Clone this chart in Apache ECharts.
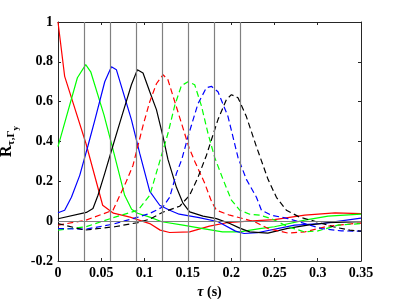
<!DOCTYPE html>
<html>
<head>
<meta charset="utf-8">
<script src="https://cdn.jsdelivr.net/npm/echarts@6/dist/echarts.min.js"></script>
<style>html,body{margin:0;padding:0;background:#fff;}#c{width:399px;height:299px;}</style>
</head>
<body>
<div id="c"></div>
<script>
// x tick labels / y tick range
const xTicks = [0, 0.05, 0.1, 0.15, 0.2, 0.25, 0.3, 0.35];
const yTicks = [-0.2, 0, 0.2, 0.4, 0.6, 0.8, 1];
// vertical reference lines (peak lags)
const markerTimes = [0.0323, 0.064, 0.0947, 0.1245, 0.1525, 0.1799, 0.2053];
const zeroLine = [0];

// solid curves
const tauRed = [0, 0.0077, 0.0323, 0.0516, 0.064, 0.0832, 0.106, 0.118, 0.129, 0.152, 0.175, 0.195, 0.22, 0.25, 0.285, 0.32, 0.35];
const rRed = [1.0, 0.727, 0.39, 0.08, 0.04, 0.02, -0.012, -0.045, -0.057, -0.054, -0.025, -0.008, 0.0, 0.008, 0.03, 0.042, 0.038];

const tauGreen = [0, 0.0224, 0.032, 0.0378, 0.0531, 0.0635, 0.077, 0.085, 0.092, 0.106, 0.12, 0.1444, 0.1675, 0.19, 0.21, 0.233, 0.25, 0.285, 0.312, 0.35];
const rGreen = [0.374, 0.72, 0.786, 0.75, 0.534, 0.36, 0.13, 0.06, 0.04, 0.02, -0.003, -0.02, -0.037, -0.054, -0.054, -0.037, -0.028, 0.005, 0.025, 0.035];

const tauBlue = [0, 0.0077, 0.0155, 0.0251, 0.0347, 0.0424, 0.054, 0.0617, 0.0675, 0.0848, 0.0944, 0.106, 0.1175, 0.129, 0.14, 0.163, 0.185, 0.205, 0.215, 0.23, 0.2734, 0.3043, 0.35];
const rBlue = [0.042, 0.055, 0.12, 0.23, 0.38, 0.505, 0.70, 0.775, 0.76, 0.51, 0.34, 0.15, 0.08, 0.055, 0.035, 0.018, -0.003, -0.05, -0.062, -0.058, -0.02, -0.012, 0.015];

const tauBlack = [0, 0.0328, 0.0404, 0.0462, 0.054, 0.0635, 0.0732, 0.0848, 0.0917, 0.0982, 0.106, 0.1137, 0.1213, 0.127, 0.1368, 0.1444, 0.1521, 0.1675, 0.183, 0.1984, 0.21, 0.2214, 0.2424, 0.2653, 0.2884, 0.3115, 0.35];
const rBlack = [0.012, 0.044, 0.064, 0.13, 0.24, 0.38, 0.52, 0.685, 0.76, 0.744, 0.65, 0.56, 0.425, 0.31, 0.17, 0.09, 0.047, 0.025, 0.013, -0.012, -0.035, -0.054, -0.06, -0.036, -0.02, -0.008, -0.003];

// dashed curves
const tauRedD = [0, 0.0323, 0.0635, 0.079, 0.0866, 0.0982, 0.106, 0.1137, 0.1213, 0.127, 0.1406, 0.1513, 0.158, 0.1695, 0.1772, 0.183, 0.1984, 0.2137, 0.2272, 0.2426, 0.2657, 0.285, 0.3119, 0.3427, 0.35];
const rRedD = [-0.02, 0.005, 0.055, 0.2, 0.28, 0.48, 0.6, 0.69, 0.735, 0.71, 0.52, 0.37, 0.30, 0.19, 0.1, 0.055, 0.03, 0.013, -0.003, -0.037, -0.06, -0.054, -0.025, -0.012, -0.01];

const tauGreenD = [0, 0.0323, 0.0635, 0.0924, 0.106, 0.1175, 0.127, 0.1348, 0.1425, 0.1502, 0.1579, 0.1656, 0.1733, 0.181, 0.1906, 0.2003, 0.2099, 0.2214, 0.233, 0.2465, 0.2657, 0.285, 0.3003, 0.3234, 0.35];
const rGreenD = [-0.045, -0.028, 0.017, 0.055, 0.13, 0.3, 0.44, 0.58, 0.68, 0.70, 0.685, 0.58, 0.44, 0.32, 0.21, 0.106, 0.055, 0.035, 0.03, 0.013, -0.028, -0.054, -0.049, -0.02, -0.012];

const tauBlueD = [0, 0.0323, 0.0635, 0.0924, 0.106, 0.1213, 0.129, 0.1368, 0.143, 0.1502, 0.1617, 0.1714, 0.1772, 0.1848, 0.1964, 0.2079, 0.2176, 0.2292, 0.235, 0.2465, 0.2657, 0.285, 0.3043, 0.3274, 0.35];
const rBlueD = [-0.037, -0.04, -0.015, 0.02, 0.039, 0.072, 0.12, 0.24, 0.31, 0.425, 0.59, 0.67, 0.677, 0.65, 0.525, 0.32, 0.21, 0.12, 0.055, 0.03, 0.013, -0.012, -0.037, -0.049, -0.05];

const tauBlackD = [0, 0.0308, 0.0655, 0.0924, 0.106, 0.121, 0.1406, 0.152, 0.1617, 0.1714, 0.1848, 0.1945, 0.2003, 0.2079, 0.2176, 0.2292, 0.2426, 0.2523, 0.2638, 0.2792, 0.2985, 0.3177, 0.337, 0.35];
const rBlackD = [-0.012, -0.045, -0.028, -0.007, 0.01, 0.045, 0.075, 0.13, 0.22, 0.33, 0.51, 0.61, 0.635, 0.62, 0.525, 0.374, 0.21, 0.12, 0.055, 0.02, -0.003, -0.028, -0.045, -0.05];

const zip = (a, b) => a.map((v, i) => [v, b[i]]);
const FONT = 'Liberation Serif';
const AX = '#262626';

function curve(name, xs, ys, color, dashed) {
  return {
    name, type: 'line', data: zip(xs, ys), showSymbol: false, symbol: 'none',
    lineStyle: { color, width: 1.2, type: dashed ? [6, 3.5] : 'solid' },
    z: 3, animation: false
  };
}

const chart = echarts.init(document.getElementById('c'), null, { renderer: 'canvas' });
const baseAxisStyle = {
  axisLine: { show: true, onZero: false, lineStyle: { color: AX, width: 1 } },
  axisTick: { show: true, inside: true, length: 3, lineStyle: { color: AX } },
  splitLine: { show: false }
};
chart.setOption({
  animation: false,
  backgroundColor: '#fff',
  grid: { left: 58, right: 38, top: 22, bottom: 38, containLabel: false, outerBoundsMode: 'none' },
  xAxis: [
    Object.assign({
      type: 'value', min: xTicks[0], max: xTicks[xTicks.length - 1], interval: 0.05,
      axisLabel: { show: true, margin: 5, color: '#000', fontFamily: FONT, fontWeight: 'bold', fontSize: 14 },
      name: '{t|τ}{u| (s)}', nameLocation: 'middle', nameGap: 20,
      nameTextStyle: { rich: {
        t: { fontFamily: FONT, fontStyle: 'italic', fontWeight: 'bold', fontSize: 14, color: '#000' },
        u: { fontFamily: FONT, fontWeight: 'bold', fontSize: 14, color: '#000' } } }
    }, baseAxisStyle),
    Object.assign({
      type: 'value', position: 'top', min: 0, max: 0.35, interval: 0.05,
      axisLabel: { show: false }
    }, baseAxisStyle)
  ],
  yAxis: [
    Object.assign({
      type: 'value', min: yTicks[0], max: yTicks[yTicks.length - 1], interval: 0.2,
      axisLabel: { show: true, margin: 5, color: '#000', fontFamily: FONT, fontWeight: 'bold', fontSize: 14 },
      name: '{r|R}{s|τ,Γ}{y|y}', nameLocation: 'middle', nameRotate: 90, nameGap: 31,
      nameTextStyle: { rich: {
        r: { fontFamily: FONT, fontWeight: 'bold', fontSize: 16, color: '#000', verticalAlign: 'top' },
        s: { fontFamily: FONT, fontWeight: 'bold', fontSize: 11, color: '#000', verticalAlign: 'top', padding: [7, 0, 0, 0] },
        y: { fontFamily: FONT, fontWeight: 'bold', fontSize: 9, color: '#000', verticalAlign: 'top', padding: [12, 0, 0, 0] } } }
    }, baseAxisStyle),
    Object.assign({
      type: 'value', position: 'right', min: -0.2, max: 1, interval: 0.2,
      axisLabel: { show: false }
    }, baseAxisStyle)
  ],
  series: [
    curve('R1', tauRed, rRed, '#ff0000', false),
    curve('R2', tauGreen, rGreen, '#00ff00', false),
    curve('R3', tauBlue, rBlue, '#0000ff', false),
    curve('R4', tauBlack, rBlack, '#000000', false),
    curve('R5', tauRedD, rRedD, '#ff0000', true),
    curve('R6', tauGreenD, rGreenD, '#00ff00', true),
    curve('R7', tauBlueD, rBlueD, '#0000ff', true),
    curve('R8', tauBlackD, rBlackD, '#000000', true),
    {
      type: 'line', data: [], silent: true, z: 4,
      markLine: {
        silent: true, symbol: ['none', 'none'], label: { show: false },
        lineStyle: { color: '#808080', width: 1.2, type: 'solid' },
        animation: false,
        data: markerTimes.map(t => ({ xAxis: t })).concat(zeroLine.map(v => ({ yAxis: v })))
      }
    }
  ]
});
</script>
</body>
</html>
